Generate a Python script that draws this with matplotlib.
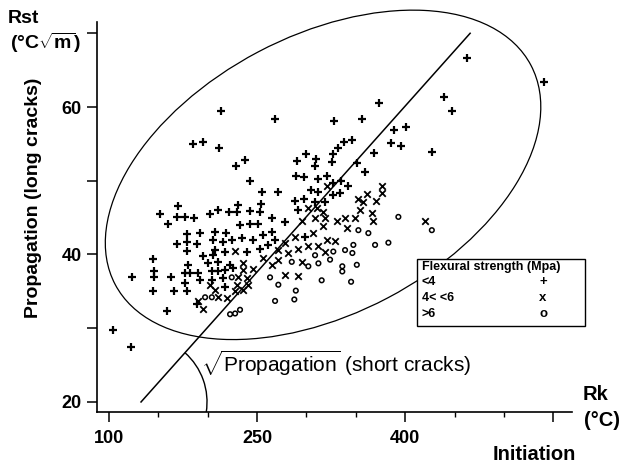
import matplotlib
matplotlib.use("Agg")
import matplotlib.pyplot as plt
from matplotlib.patches import Ellipse, Arc, Rectangle
from matplotlib.transforms import Affine2D, ScaledTranslation

plt.rcParams['font.family'] = ['Liberation Sans', 'DejaVu Sans']
plt.rcParams['mathtext.fontset'] = 'custom'
plt.rcParams['mathtext.rm'] = 'Liberation Sans'
plt.rcParams['mathtext.bf'] = 'Liberation Sans:bold'

# ---- data: Rk (initiation, °C) vs Rst (propagation, °C√m) ----
plus_rk = [213.2, 184.8, 195.5, 211.0, 228.4, 237.8, 242.9, 254.7, 169.6, 151.7, 168.6, 177.3, 186.4,
           202.3, 210.7, 221.9, 230.4, 230.0, 242.9, 253.7, 253.0,
           268.2, 373.9, 327.7, 356.3, 389.1, 400.6, 385.7, 395.8, 427.5, 345.9, 337.7, 331.7, 326.9,
           299.6, 290.2, 309.4, 308.7, 326.2, 368.2, 351.3, 359.4, 289.2, 297.9, 311.5, 320.9, 327.2,
           335.0, 342.4, 334.3, 304.7, 311.5, 271.5, 288.4, 297.9, 308.7, 318.8, 327.2, 291.8, 264.8, 278.3,
           463.0, 541.0, 439.4, 447.2,
           160.1, 178.7, 192.2, 207.4, 218.5, 232.7, 242.9, 251.3, 168.6, 178.7, 188.9, 205.7, 215.2,
           224.3, 234.4, 246.2, 256.3, 178.7, 207.4, 217.5, 239.5, 253.0, 144.3, 195.5, 205.7, 200.6,
           210.7, 222.6, 123.0, 145.6, 145.6, 162.5, 180.3, 182.1, 190.5, 177.0, 204.1, 210.7, 217.5,
           225.9, 192.2, 204.1, 215.8, 144.3, 165.9, 179.3, 177.0, 217.5, 189.5, 158.5, 104.4, 122.3,
           261.4, 268.2, 298.6, 264.8]
plus_rst = [59.4, 55.0, 55.2, 54.5, 52.0, 52.8, 50.0, 48.5, 46.6, 45.5, 45.1, 45.1, 44.9,
            45.5, 46.0, 45.7, 46.7, 45.7, 45.9, 46.8, 45.8,
            58.4, 60.5, 58.1, 58.4, 56.9, 57.3, 55.1, 54.7, 53.9, 55.5, 55.3, 54.4, 53.6,
            53.6, 52.7, 53.0, 52.0, 52.5, 53.7, 52.4, 51.2, 50.7, 50.5, 50.2, 50.6, 49.7,
            50.0, 49.3, 48.4, 48.8, 48.5, 48.5, 47.3, 47.5, 47.1, 47.1, 48.1, 46.0, 44.9, 44.4,
            66.7, 63.4, 61.3, 59.5,
            44.1, 42.8, 42.9, 43.0, 42.9, 44.0, 44.1, 44.1, 41.4, 41.7, 41.4, 42.0, 41.7,
            41.9, 42.2, 42.0, 42.6, 40.5, 40.6, 40.4, 40.4, 40.7, 39.4, 39.8, 39.9, 38.9,
            39.0, 38.6, 36.9, 37.7, 37.0, 37.0, 38.6, 37.5, 37.5, 37.5, 37.7, 37.7, 37.9,
            38.2, 36.5, 36.5, 36.8, 35.1, 35.0, 35.1, 36.1, 35.6, 33.3, 32.4, 29.7, 27.5,
            41.3, 42.0, 42.4, 43.1]

cross_rk = [320.9, 376.3, 376.9, 361.1, 352.0, 357.7, 370.2, 354.3, 349.2, 366.1, 367.8, 420.2,
            301.9, 310.4, 317.1, 318.8, 308.7, 295.2, 330.7, 339.1,
            291.8, 278.3, 271.5, 295.2, 318.8, 329.0, 320.6, 312.1, 301.9, 291.8, 281.7, 271.5,
            278.3, 288.4, 307.0, 317.1, 340.8, 264.8,
            227.7, 236.1, 256.3, 236.1, 246.2, 231.0, 239.5, 202.3, 207.4, 229.4, 241.1, 236.1,
            227.7, 210.7, 219.2, 190.5, 195.5]
cross_rst = [49.3, 49.3, 48.3, 48.2, 47.5, 47.1, 47.2, 46.0, 44.9, 45.6, 44.5, 44.5,
             46.3, 46.3, 45.8, 45.0, 44.9, 44.5, 44.5, 44.9,
             37.1, 37.2, 39.3, 39.0, 40.4, 41.8, 42.0, 41.1, 41.1, 40.8, 40.2, 40.6,
             41.5, 42.4, 42.9, 43.8, 43.6, 38.6,
             40.5, 38.9, 39.5, 37.9, 38.0, 36.9, 36.8, 35.9, 35.2, 35.8, 35.9, 35.2,
             35.0, 34.2, 34.1, 33.7, 32.6]

circle_rk = [393.1, 352.6, 362.7, 369.5, 383.0, 427.0, 327.2, 339.1, 347.5, 346.5, 312.1, 323.9,
             336.3, 336.3, 351.0, 315.4, 345.2, 271.5, 289.2, 287.7, 268.2, 263.1, 285.1, 308.7,
             301.9, 224.3, 197.3, 204.1, 222.6, 227.7, 232.7]
circle_rst = [45.1, 43.3, 42.9, 41.3, 41.6, 43.3, 40.4, 40.6, 41.3, 40.2, 38.8, 39.3,
              38.4, 37.7, 38.6, 36.5, 36.3, 35.9, 35.1, 33.9, 33.7, 36.9, 39.0, 39.9,
              38.4, 36.9, 34.2, 34.2, 31.9, 32.0, 32.5]

legend_title = "Flexural strength (Mpa)"
legend_labels = ["<4", "4< <6", ">6"]
legend_symbols = ["+", "x", "o"]

# regression line end points (Rk, Rst)
line_rk = [132.4, 465.8]
line_rst = [20.0, 70.0]

x_major = [100, 250, 400, 550]
x_major_labels = ["100", "250", "400", ""]
x_minor = [150, 200, 300, 350, 450, 500]
y_ticks = [20, 30, 40, 50, 60, 70]
y_tick_labels = ["20", "", "40", "", "60", ""]

W, H = 624, 466
fig = plt.figure(figsize=(W / 100, H / 100), dpi=100)
ax = fig.add_axes([97 / W, 54 / H, 475 / W, 390 / H])
ax.set_xlim(87.8, 569)
ax.set_ylim(18.64, 71.53)

for s in ['top', 'right']:
    ax.spines[s].set_visible(False)
for s in ['left', 'bottom']:
    ax.spines[s].set_linewidth(1.2)

ax.set_xticks(x_major)
ax.set_xticklabels(x_major_labels)
ax.set_xticks(x_minor, minor=True)
ax.set_yticks(y_ticks)
ax.set_yticklabels(y_tick_labels)
ax.tick_params(axis='x', which='major', length=7.2, width=1.1, pad=6, labelsize=13)
ax.tick_params(axis='x', which='minor', length=3.8, width=1.0)
ax.tick_params(axis='y', which='major', length=7, width=1.1, pad=4, labelsize=13)
for lab in ax.get_xticklabels() + ax.get_yticklabels():
    lab.set_fontweight('bold')

ax.scatter(plus_rk, plus_rst, marker='+', s=32, linewidths=1.6, color='black', clip_on=False, zorder=3)
ax.scatter(cross_rk, cross_rst, marker='x', s=22, linewidths=1.3, color='black', clip_on=False, zorder=3)
ax.scatter(circle_rk, circle_rst, marker='o', s=11, linewidths=1.1, facecolors='none',
           edgecolors='black', clip_on=False, zorder=3)

ax.plot(line_rk, line_rst, color='black', lw=1.1, clip_on=False, zorder=2)

px = Affine2D().scale(fig.dpi / 100.0)
ell = Ellipse((0, 0), 2 * 235, 2 * 139, angle=27.8, fill=False, lw=0.9, color='black',
              transform=px + ScaledTranslation(316.8, 50.8, ax.transData), clip_on=False, zorder=2)
ax.add_patch(ell)
arc = Arc((0, 0), 2 * 66, 2 * 66, theta1=-9, theta2=48.3, lw=1.0, color='black',
          transform=px + ScaledTranslation(line_rk[0], line_rst[0], ax.transData), zorder=2)
ax.add_patch(arc)

def fp(x, y):
    return x / W, 1 - y / H

fig.text(*fp(34, 198), "Propagation (long cracks)", rotation=90, fontsize=14, fontweight='bold',
         ha='center', va='center')
fig.text(*fp(8, 23), "Rst", fontsize=14, fontweight='bold', ha='left', va='baseline')
fig.text(*fp(46, 43), "(°C$\\sqrt{\\mathbf{m}}$)", fontsize=14, fontweight='bold', ha='center', va='center')
fig.text(*fp(583, 395), "Rk", fontsize=14.5, fontweight='bold', ha='left', va='center')
fig.text(*fp(584, 420), "(°C)", fontsize=14.5, fontweight='bold', ha='left', va='center')
fig.text(*fp(534, 455), "Initiation", fontsize=14.5, fontweight='bold', ha='center', va='center')
fig.text(*fp(201, 363), "$\\sqrt{\\mathrm{Propagation}}$ (short cracks)", fontsize=15,
         ha='left', va='center')

# legend box
x0, y0, x1, y1 = 417, 259, 585, 326
rect = Rectangle(fp(x0, y1), (x1 - x0) / W, (y1 - y0) / H, transform=fig.transFigure,
                 facecolor='white', edgecolor='black', lw=1.0, zorder=5)
fig.add_artist(rect)
t = fig.text(*fp(422, 267), legend_title, fontsize=9, fontweight='bold', ha='left', va='center')
t.set_zorder(6)
for i, (lab, sym) in enumerate(zip(legend_labels, legend_symbols)):
    yy = 282 + i * 16
    a = fig.text(*fp(422, yy), lab, fontsize=9, fontweight='bold', ha='left', va='center')
    b = fig.text(*fp(543, yy), sym, fontsize=9.5, fontweight='bold', ha='center', va='center')
    a.set_zorder(6)
    b.set_zorder(6)

fig.savefig("out.png", dpi=100)
